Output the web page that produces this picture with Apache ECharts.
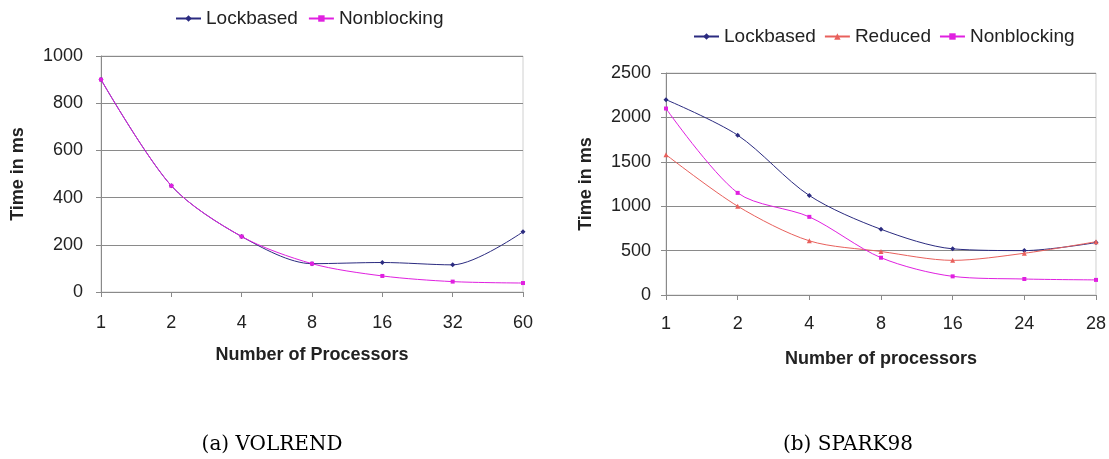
<!DOCTYPE html>
<html>
<head>
<meta charset="utf-8">
<script src="https://cdn.jsdelivr.net/npm/echarts@6/dist/echarts.min.js"></script>
<style>
  html, body { margin: 0; padding: 0; background: #fff; }
  #main { width: 1109px; height: 459px; }
</style>
</head>
<body>
<div id="main"></div>
<script>
// (a) VOLREND
var volCats = ['1', '2', '4', '8', '16', '32', '60'];
var volLock = [900, 450, 235, 120, 125, 115, 255];
var volNonblock = [900, 450, 235, 120, 68, 44, 38];

// (b) SPARK98
var sparkCats = ['1', '2', '4', '8', '16', '24', '28'];
var sparkLock = [2200, 1800, 1120, 740, 520, 500, 590];
var sparkReduced = [1580, 1000, 610, 490, 390, 470, 600];
var sparkNonblock = [2100, 1150, 880, 420, 210, 180, 170];

var LOCK = '#2b2b80', RED = '#e8605c', MAG = '#e020e0';
var txt = '#222';
var font = 'Liberation Sans, Arial, sans-serif';

var chart = echarts.init(document.getElementById('main'), null, { renderer: 'canvas' });

function xAxis(idx, cats, margin, gap, name) {
  return {
    type: 'category', gridIndex: idx, data: cats, boundaryGap: false,
    name: name, nameLocation: 'middle', nameGap: gap,
    nameTextStyle: { fontFamily: font, fontSize: 18, fontWeight: 'bold', color: txt },
    axisLine: { lineStyle: { color: '#8a8a8a' } },
    axisTick: { show: true, alignWithLabel: true, length: 5, lineStyle: { color: '#8a8a8a' } },
    axisLabel: { margin: margin, fontFamily: font, fontSize: 18, color: txt }
  };
}

function yAxis(idx, max, interval, margin, gap) {
  return {
    type: 'value', gridIndex: idx, min: 0, max: max, interval: interval,
    name: 'Time in ms', nameLocation: 'middle', nameRotate: 90, nameGap: gap,
    nameTextStyle: { fontFamily: font, fontSize: 18, fontWeight: 'bold', color: txt },
    axisLine: { show: true, lineStyle: { color: '#8a8a8a' } },
    axisTick: { show: true, length: 5, lineStyle: { color: '#8a8a8a' } },
    axisLabel: { margin: margin, fontFamily: font, fontSize: 18, color: txt,
      formatter: function (v) { return String(v); } },
    splitLine: { lineStyle: { color: '#8a8a8a', width: 1 } }
  };
}

function line(name, data, color, symbol, size, xi) {
  return {
    name: name, type: 'line', xAxisIndex: xi, yAxisIndex: xi, data: data,
    smooth: 0.3, symbol: symbol, symbolSize: size, showSymbol: true,
    lineStyle: { color: color, width: 1 },
    itemStyle: { color: color },
    emphasis: { disabled: true }
  };
}

var legendText = { fontFamily: font, fontSize: 19, color: txt };
var capStyle = { fontFamily: 'DejaVu Serif, serif', fontSize: 20, fontWeight: 'normal', color: '#000' };

var option = {
  animation: false,
  backgroundColor: '#fff',
  title: [
    { text: '(a) VOLREND', left: 267, top: 430, textAlign: 'center', textStyle: capStyle },
    { text: '(b) SPARK98', left: 843, top: 430, textAlign: 'center', textStyle: capStyle }
  ],
  legend: [
    { data: ['Lockbased', 'Nonblocking'], left: 170, top: 4, itemWidth: 25, itemHeight: 8,
      itemGap: 10, textStyle: legendText },
    { data: ['Lockbased', 'Reduced', 'Nonblocking'], left: 688, top: 22, itemWidth: 25, itemHeight: 8,
      itemGap: 8, textStyle: legendText }
  ],
  grid: [
    { left: 101, top: 56, width: 422, height: 236, show: true, borderColor: '#d0d0d0', borderWidth: 1 },
    { left: 666, top: 73, width: 431, height: 222, show: true, borderColor: '#d0d0d0', borderWidth: 1 }
  ],
  xAxis: [
    xAxis(0, volCats, 22, 54, 'Number of Processors'),
    xAxis(1, sparkCats, 20, 55, 'Number of processors')
  ],
  yAxis: [
    yAxis(0, 1000, 200, 18, 74),
    yAxis(1, 2500, 500, 15, 71)
  ],
  series: [
    line('Lockbased', volLock, LOCK, 'diamond', 5, 0),
    line('Nonblocking', volNonblock, MAG, 'rect', 4, 0),
    line('Lockbased', sparkLock, LOCK, 'diamond', 5, 1),
    line('Reduced', sparkReduced, RED, 'triangle', 5, 1),
    line('Nonblocking', sparkNonblock, MAG, 'rect', 4, 1)
  ]
};

chart.setOption(option);
</script>
</body>
</html>
